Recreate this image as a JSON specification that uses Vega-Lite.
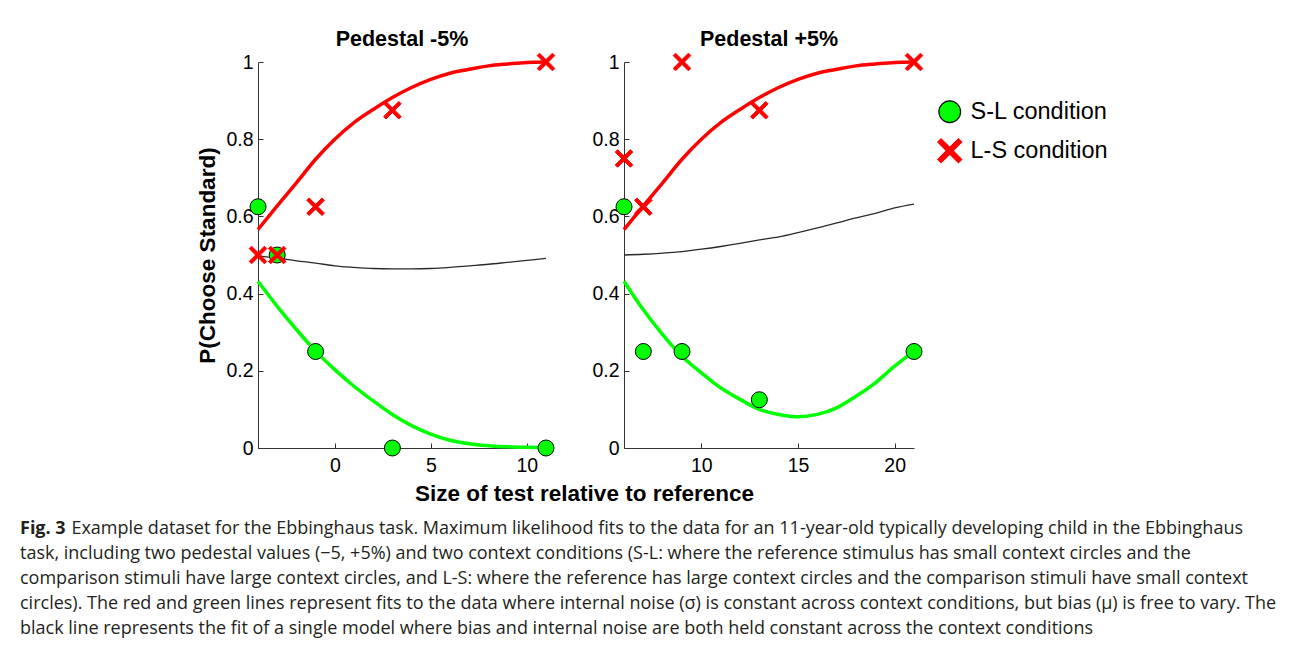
{
  "$schema": "https://vega.github.io/schema/vega-lite/v6.json",
  "background": "white",
  "padding": {"left": 20, "top": 28, "right": 5, "bottom": 5},
  "datasets": {
    "ptsL": [
      {"x": -4, "p": 0.625, "condition": "S-L condition"},
      {"x": -3, "p": 0.5, "condition": "S-L condition"},
      {"x": -1, "p": 0.25, "condition": "S-L condition"},
      {"x": 3, "p": 0.0, "condition": "S-L condition"},
      {"x": 11, "p": 0.0, "condition": "S-L condition"},
      {"x": -4, "p": 0.5, "condition": "L-S condition"},
      {"x": -3, "p": 0.5, "condition": "L-S condition"},
      {"x": -1, "p": 0.625, "condition": "L-S condition"},
      {"x": 3, "p": 0.875, "condition": "L-S condition"},
      {"x": 11, "p": 1.0, "condition": "L-S condition"}
    ],
    "ptsR": [
      {"x": 6, "p": 0.625, "condition": "S-L condition"},
      {"x": 7, "p": 0.25, "condition": "S-L condition"},
      {"x": 9, "p": 0.25, "condition": "S-L condition"},
      {"x": 13, "p": 0.125, "condition": "S-L condition"},
      {"x": 21, "p": 0.25, "condition": "S-L condition"},
      {"x": 6, "p": 0.75, "condition": "L-S condition"},
      {"x": 7, "p": 0.625, "condition": "L-S condition"},
      {"x": 9, "p": 1.0, "condition": "L-S condition"},
      {"x": 13, "p": 0.875, "condition": "L-S condition"},
      {"x": 21, "p": 1.0, "condition": "L-S condition"}
    ],
    "fitL": [
      {"x": -4, "p": 0.566, "fit": "L-S"}, {"x": -3, "p": 0.627, "fit": "L-S"}, {"x": -2, "p": 0.687, "fit": "L-S"}, {"x": -1, "p": 0.748, "fit": "L-S"},
      {"x": 0, "p": 0.8, "fit": "L-S"}, {"x": 1, "p": 0.843, "fit": "L-S"}, {"x": 2, "p": 0.877, "fit": "L-S"}, {"x": 3, "p": 0.908, "fit": "L-S"},
      {"x": 4, "p": 0.934, "fit": "L-S"}, {"x": 5, "p": 0.955, "fit": "L-S"}, {"x": 6, "p": 0.971, "fit": "L-S"}, {"x": 7, "p": 0.981, "fit": "L-S"},
      {"x": 8, "p": 0.99, "fit": "L-S"}, {"x": 9, "p": 0.995, "fit": "L-S"}, {"x": 10, "p": 0.999, "fit": "L-S"}, {"x": 11, "p": 1.0, "fit": "L-S"},
      {"x": -4, "p": 0.432, "fit": "S-L"}, {"x": -3, "p": 0.367, "fit": "S-L"}, {"x": -2, "p": 0.307, "fit": "S-L"}, {"x": -1, "p": 0.251, "fit": "S-L"},
      {"x": 0, "p": 0.203, "fit": "S-L"}, {"x": 1, "p": 0.16, "fit": "S-L"}, {"x": 2, "p": 0.122, "fit": "S-L"}, {"x": 3, "p": 0.087, "fit": "S-L"},
      {"x": 4, "p": 0.058, "fit": "S-L"}, {"x": 5, "p": 0.036, "fit": "S-L"}, {"x": 6, "p": 0.02, "fit": "S-L"}, {"x": 7, "p": 0.011, "fit": "S-L"},
      {"x": 8, "p": 0.006, "fit": "S-L"}, {"x": 9, "p": 0.003, "fit": "S-L"}, {"x": 10, "p": 0.002, "fit": "S-L"}, {"x": 11, "p": 0.001, "fit": "S-L"},
      {"x": -4, "p": 0.498, "fit": "single"}, {"x": -3, "p": 0.492, "fit": "single"}, {"x": -2, "p": 0.485, "fit": "single"}, {"x": -1, "p": 0.479, "fit": "single"},
      {"x": 0, "p": 0.472, "fit": "single"}, {"x": 1, "p": 0.468, "fit": "single"}, {"x": 2, "p": 0.465, "fit": "single"}, {"x": 3, "p": 0.464, "fit": "single"},
      {"x": 4, "p": 0.464, "fit": "single"}, {"x": 5, "p": 0.465, "fit": "single"}, {"x": 6, "p": 0.468, "fit": "single"}, {"x": 7, "p": 0.472, "fit": "single"},
      {"x": 8, "p": 0.476, "fit": "single"}, {"x": 9, "p": 0.481, "fit": "single"}, {"x": 10, "p": 0.486, "fit": "single"}, {"x": 11, "p": 0.491, "fit": "single"}
    ],
    "fitR": [
      {"x": 6, "p": 0.566, "fit": "L-S"}, {"x": 7, "p": 0.627, "fit": "L-S"}, {"x": 8, "p": 0.687, "fit": "L-S"}, {"x": 9, "p": 0.748, "fit": "L-S"},
      {"x": 10, "p": 0.8, "fit": "L-S"}, {"x": 11, "p": 0.843, "fit": "L-S"}, {"x": 12, "p": 0.877, "fit": "L-S"}, {"x": 13, "p": 0.908, "fit": "L-S"},
      {"x": 14, "p": 0.934, "fit": "L-S"}, {"x": 15, "p": 0.955, "fit": "L-S"}, {"x": 16, "p": 0.971, "fit": "L-S"}, {"x": 17, "p": 0.981, "fit": "L-S"},
      {"x": 18, "p": 0.99, "fit": "L-S"}, {"x": 19, "p": 0.995, "fit": "L-S"}, {"x": 20, "p": 0.999, "fit": "L-S"}, {"x": 21, "p": 1.0, "fit": "L-S"},
      {"x": 6, "p": 0.432, "fit": "S-L"}, {"x": 7, "p": 0.358, "fit": "S-L"}, {"x": 8, "p": 0.294, "fit": "S-L"}, {"x": 9, "p": 0.238, "fit": "S-L"},
      {"x": 10, "p": 0.195, "fit": "S-L"}, {"x": 11, "p": 0.156, "fit": "S-L"}, {"x": 12, "p": 0.126, "fit": "S-L"}, {"x": 13, "p": 0.1, "fit": "S-L"},
      {"x": 14, "p": 0.087, "fit": "S-L"}, {"x": 15, "p": 0.081, "fit": "S-L"}, {"x": 16, "p": 0.087, "fit": "S-L"}, {"x": 17, "p": 0.104, "fit": "S-L"},
      {"x": 18, "p": 0.134, "fit": "S-L"}, {"x": 19, "p": 0.169, "fit": "S-L"}, {"x": 20, "p": 0.212, "fit": "S-L"}, {"x": 21, "p": 0.251, "fit": "S-L"},
      {"x": 6, "p": 0.5, "fit": "single"}, {"x": 7, "p": 0.502, "fit": "single"}, {"x": 8, "p": 0.505, "fit": "single"}, {"x": 9, "p": 0.509, "fit": "single"},
      {"x": 10, "p": 0.515, "fit": "single"}, {"x": 11, "p": 0.522, "fit": "single"}, {"x": 12, "p": 0.53, "fit": "single"}, {"x": 13, "p": 0.539, "fit": "single"},
      {"x": 14, "p": 0.547, "fit": "single"}, {"x": 15, "p": 0.558, "fit": "single"}, {"x": 16, "p": 0.57, "fit": "single"}, {"x": 17, "p": 0.583, "fit": "single"},
      {"x": 18, "p": 0.596, "fit": "single"}, {"x": 19, "p": 0.608, "fit": "single"}, {"x": 20, "p": 0.622, "fit": "single"}, {"x": 21, "p": 0.632, "fit": "single"}
    ]
  },
  "title": {
    "text": "Fig. 3",
    "subtitle": [
      "\u200b\u00a0\u00a0\u00a0\u00a0\u00a0\u00a0\u00a0\u00a0\u00a0\u00a0\u00a0Example dataset for the Ebbinghaus task. Maximum likelihood fits to the data for an 11-year-old typically developing child in the Ebbinghaus",
      "task, including two pedestal values (\u22125, +5%) and two context conditions (S-L: where the reference stimulus has small context circles and the",
      "comparison stimuli have large context circles, and L-S: where the reference has large context circles and the comparison stimuli have small context",
      "circles). The red and green lines represent fits to the data where internal noise (\u03c3) is constant across context conditions, but bias (\u03bc) is free to vary. The",
      "black line represents the fit of a single model where bias and internal noise are both held constant across the context conditions"
    ],
    "orient": "bottom",
    "anchor": "start",
    "frame": "group",
    "dx": -238,
    "offset": 15,
    "font": "Open Sans",
    "fontSize": 18,
    "fontWeight": "bold",
    "color": "#231f20",
    "subtitleFont": "Open Sans",
    "subtitleFontSize": 18,
    "subtitleFontWeight": "normal",
    "subtitleColor": "#231f20",
    "subtitleLineHeight": 25,
    "subtitlePadding": -18
  },
  "bounds": "flush",
  "spacing": 78,
  "hconcat": [
    {
      "width": 288,
      "height": 386,
      "title": "Pedestal -5%",
      "layer": [
        {
          "data": {"name": "fitL"},
          "transform": [{"filter": "datum.fit === 'single'"}],
          "mark": {"type": "line", "color": "#2a2a2a", "strokeWidth": 1.3, "interpolate": "monotone"},
          "encoding": {
            "x": {"field": "x", "type": "quantitative", "scale": {"domain": [-4, 11], "nice": false, "zero": false},
                  "axis": {"values": [0, 5, 10], "title": "Size of test relative to reference", "titleX": 326, "titleY": 52, "titleAlign": "center", "titleBaseline": "alphabetic"}},
            "y": {"field": "p", "type": "quantitative", "scale": {"domain": [0, 1]}, "axis": {"title": "P(Choose Standard)", "values": [0, 0.2, 0.4, 0.6, 0.8, 1], "format": "~g"}}
          }
        },
        {
          "data": {"name": "fitL"},
          "transform": [{"filter": "datum.fit === 'L-S'"}],
          "mark": {"type": "line", "color": "#ff0000", "strokeWidth": 3.5, "interpolate": "monotone"},
          "encoding": {
            "x": {"field": "x", "type": "quantitative"},
            "y": {"field": "p", "type": "quantitative"}
          }
        },
        {
          "data": {"name": "fitL"},
          "transform": [{"filter": "datum.fit === 'S-L'"}],
          "mark": {"type": "line", "color": "#00ff00", "strokeWidth": 3.5, "interpolate": "monotone"},
          "encoding": {
            "x": {"field": "x", "type": "quantitative"},
            "y": {"field": "p", "type": "quantitative"}
          }
        },
        {
          "data": {"name": "ptsL"},
          "mark": {"type": "point", "filled": true, "size": 256, "strokeWidth": 1, "opacity": 1},
          "encoding": {
            "x": {"field": "x", "type": "quantitative"},
            "y": {"field": "p", "type": "quantitative"},
            "color": {"field": "condition", "type": "nominal", "scale": {"domain": ["S-L condition", "L-S condition"], "range": ["#00ff00", "#ff0000"]}, "legend": {"orient": "none", "legendX": 680, "legendY": 38, "title": null}},
            "shape": {"field": "condition", "type": "nominal", "scale": {"domain": ["S-L condition", "L-S condition"], "range": ["circle", "M-0.8,-1.1L0,-0.3L0.8,-1.1L1.1,-0.8L0.3,0L1.1,0.8L0.8,1.1L0,0.3L-0.8,1.1L-1.1,0.8L-0.3,0L-1.1,-0.8Z"]}, "legend": {"orient": "none", "legendX": 680, "legendY": 38, "title": null}},
            "stroke": {"field": "condition", "type": "nominal", "scale": {"domain": ["S-L condition", "L-S condition"], "range": ["#000000", "#ff0000"]}, "legend": {"orient": "none", "legendX": 680, "legendY": 38, "title": null}}
          }
        }
      ]
    },
    {
      "width": 290,
      "height": 386,
      "title": "Pedestal +5%",
      "layer": [
        {
          "data": {"name": "fitR"},
          "transform": [{"filter": "datum.fit === 'single'"}],
          "mark": {"type": "line", "color": "#2a2a2a", "strokeWidth": 1.3, "interpolate": "monotone"},
          "encoding": {
            "x": {"field": "x", "type": "quantitative", "scale": {"domain": [6, 21], "nice": false, "zero": false},
                  "axis": {"values": [10, 15, 20], "title": null}},
            "y": {"field": "p", "type": "quantitative", "scale": {"domain": [0, 1]}, "axis": {"title": null, "values": [0, 0.2, 0.4, 0.6, 0.8, 1], "format": "~g"}}
          }
        },
        {
          "data": {"name": "fitR"},
          "transform": [{"filter": "datum.fit === 'L-S'"}],
          "mark": {"type": "line", "color": "#ff0000", "strokeWidth": 3.5, "interpolate": "monotone"},
          "encoding": {
            "x": {"field": "x", "type": "quantitative"},
            "y": {"field": "p", "type": "quantitative"}
          }
        },
        {
          "data": {"name": "fitR"},
          "transform": [{"filter": "datum.fit === 'S-L'"}],
          "mark": {"type": "line", "color": "#00ff00", "strokeWidth": 3.5, "interpolate": "monotone"},
          "encoding": {
            "x": {"field": "x", "type": "quantitative"},
            "y": {"field": "p", "type": "quantitative"}
          }
        },
        {
          "data": {"name": "ptsR"},
          "mark": {"type": "point", "filled": true, "size": 256, "strokeWidth": 1, "opacity": 1},
          "encoding": {
            "x": {"field": "x", "type": "quantitative"},
            "y": {"field": "p", "type": "quantitative"},
            "color": {"field": "condition", "type": "nominal", "scale": {"domain": ["S-L condition", "L-S condition"], "range": ["#00ff00", "#ff0000"]}, "legend": {"orient": "none", "legendX": 680, "legendY": 38, "title": null}},
            "shape": {"field": "condition", "type": "nominal", "scale": {"domain": ["S-L condition", "L-S condition"], "range": ["circle", "M-0.8,-1.1L0,-0.3L0.8,-1.1L1.1,-0.8L0.3,0L1.1,0.8L0.8,1.1L0,0.3L-0.8,1.1L-1.1,0.8L-0.3,0L-1.1,-0.8Z"]}, "legend": {"orient": "none", "legendX": 680, "legendY": 38, "title": null}},
            "stroke": {"field": "condition", "type": "nominal", "scale": {"domain": ["S-L condition", "L-S condition"], "range": ["#000000", "#ff0000"]}, "legend": {"orient": "none", "legendX": 680, "legendY": 38, "title": null}}
          }
        }
      ]
    }
  ],
  "resolve": {"scale": {"x": "independent", "color": "shared", "shape": "shared", "stroke": "shared"}},
  "config": {
    "view": {"stroke": null},
    "font": "Liberation Sans",
    "title": {"font": "Liberation Sans", "fontSize": 21.5, "fontWeight": "bold", "color": "#000000", "anchor": "middle", "baseline": "alphabetic", "offset": 1},
    "axis": {
      "grid": false,
      "domainColor": "#333333",
      "tickColor": "#333333",
      "tickSize": -5,
      "labelFont": "Liberation Sans",
      "labelFontSize": 19.5,
      "labelColor": "#000000",
      "titleFont": "Liberation Sans",
      "titleFontSize": 22.5,
      "titleFontWeight": "bold",
      "titleColor": "#000000"
    },
    "axisX": {"labelPadding": 13, "labelFlush": false},
    "axisY": {"labelPadding": 10, "titlePadding": 6, "labelFlush": false},
    "legend": {
      "labelFont": "Liberation Sans",
      "labelFontSize": 23.5,
      "labelColor": "#000000",
      "symbolSize": 470,
      "symbolStrokeWidth": 1.2,
      "rowPadding": 11,
      "labelOffset": 9
    }
  }
}
